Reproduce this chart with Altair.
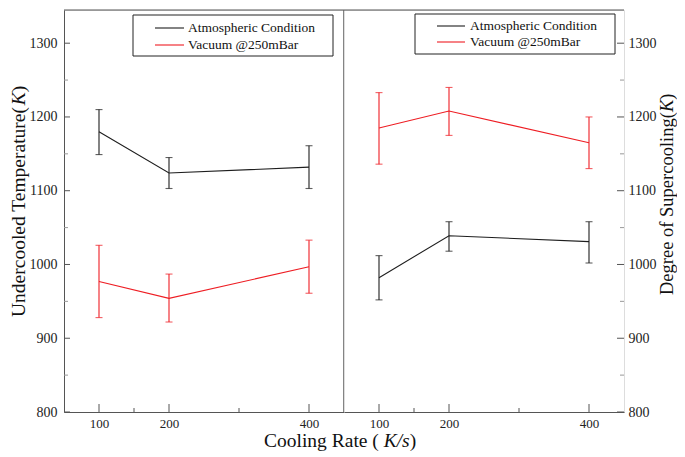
import altair as alt
import pandas as pd

FONT = "Liberation Serif"

rates = [100, 200, 400]
series = ["Atmospheric Condition", "Vacuum @250mBar"]
colors = ["#1e1e1e", "#ee1d23"]

under_atm_mean = [1180, 1124, 1132]
under_atm_lo = [1149, 1103, 1103]
under_atm_hi = [1210, 1145, 1161]
under_vac_mean = [977, 954, 997]
under_vac_lo = [928, 922, 961]
under_vac_hi = [1026, 987, 1033]

super_atm_mean = [982, 1039, 1031]
super_atm_lo = [952, 1018, 1002]
super_atm_hi = [1012, 1058, 1058]
super_vac_mean = [1185, 1208, 1165]
super_vac_lo = [1136, 1175, 1130]
super_vac_hi = [1233, 1240, 1200]

y_major = [800, 900, 1000, 1100, 1200, 1300]
y_minor = [850, 950, 1050, 1150, 1250]
x_major = [100, 200, 400]
x_minor = [150, 300]

W, H = 280, 402
XDOM = [50, 450]
YDOM = [800, 1345]
AX = "#555555"


def make_df(atm, vac):
    rows = []
    for name, (m, lo, hi) in zip(series, [atm, vac]):
        for r, a, b, c in zip(rates, m, lo, hi):
            rows.append({"rate": r, "series": name, "mean": a, "lo": b, "hi": c})
    return pd.DataFrame(rows)


df_under = make_df((under_atm_mean, under_atm_lo, under_atm_hi),
                   (under_vac_mean, under_vac_lo, under_vac_hi))
df_super = make_df((super_atm_mean, super_atm_lo, super_atm_hi),
                   (super_vac_mean, super_vac_lo, super_vac_hi))

one = pd.DataFrame({"a": [0]})
xs = alt.Scale(domain=XDOM, nice=False, zero=False)
ys = alt.Scale(domain=YDOM, nice=False, zero=False)
color = alt.Color("series:N", scale=alt.Scale(domain=series, range=colors), legend=None)


def panel(df, side, legend_box, legend_sym, legend_txt_x, rows_y, title_parts):
    x_axis = alt.Axis(values=x_major, title=None, grid=False, ticks=False, tickSize=0,
                      labelPadding=5, labelFontSize=13, labelFont=FONT, labelColor="#222",
                      domainColor=AX, domainWidth=1, format="d", labelFlush=False)
    if side == "left":
        y_axis = alt.Axis(orient="left", values=y_major, title=None, grid=False, ticks=False,
                          tickSize=0, labelPadding=7, labelFontSize=14, labelFont=FONT,
                          labelColor="#222", domainColor=AX, domainWidth=1, format="d")
    else:
        y_axis = alt.Axis(orient="right", values=y_major, title=None, grid=False, ticks=False,
                          tickSize=0, labelPadding=4, labelFontSize=14, labelFont=FONT,
                          labelColor="#222", domain=False, format="d")

    def X(f):
        return alt.X(f, scale=xs, axis=x_axis)

    def Y(f):
        return alt.Y(f, scale=ys, axis=y_axis)

    base = alt.Chart(df)
    layers = []
    layers.append(base.mark_line(strokeWidth=1.1).encode(x=X("rate:Q"), y=Y("mean:Q"), color=color))
    layers.append(base.mark_rule(strokeWidth=1.1).encode(x=X("rate:Q"), y=Y("lo:Q"), y2="hi:Q", color=color))
    layers.append(base.mark_tick(orient="horizontal", size=7, thickness=1.1).encode(x=X("rate:Q"), y=Y("lo:Q"), color=color))
    layers.append(base.mark_tick(orient="horizontal", size=7, thickness=1.1).encode(x=X("rate:Q"), y=Y("hi:Q"), color=color))

    # inward ticks
    dxm = pd.DataFrame({"v": x_major})
    dxn = pd.DataFrame({"v": x_minor})
    dym = pd.DataFrame({"v": y_major})
    dyn = pd.DataFrame({"v": y_minor})
    layers.append(alt.Chart(dxm).mark_rule(color=AX, strokeWidth=1).encode(
        x=X("v:Q"), y=alt.value(H), y2=alt.value(H - 8)))
    layers.append(alt.Chart(dxn).mark_rule(color=AX, strokeWidth=1).encode(
        x=X("v:Q"), y=alt.value(H), y2=alt.value(H - 4)))
    if side == "left":
        x0, x1, x2 = 0, 6, 4
    else:
        x0, x1, x2 = W, W - 7, W - 4
    layers.append(alt.Chart(dym).mark_rule(color=AX, strokeWidth=1).encode(
        y=Y("v:Q"), x=alt.value(x0), x2=alt.value(x1)))
    layers.append(alt.Chart(dyn).mark_rule(color="#999999", strokeWidth=1).encode(
        y=Y("v:Q"), x=alt.value(x0), x2=alt.value(x2)))

    # frame: top border, divider
    layers.append(alt.Chart(one).mark_rule(color=AX, strokeWidth=1).encode(
        x=alt.value(0), x2=alt.value(W), y=alt.value(0)))
    if side == "left":
        layers.append(alt.Chart(one).mark_rule(color="#666666", strokeWidth=1.6).encode(
            x=alt.value(W), y=alt.value(0), y2=alt.value(H)))

    # legend
    bx0, bx1, by0, by1 = legend_box
    layers.append(alt.Chart(one).mark_rect(fill="white", stroke="#222", strokeWidth=1).encode(
        x=alt.value(bx0), x2=alt.value(bx1), y=alt.value(by0), y2=alt.value(by1)))
    for name, col, ry in zip(series, colors, rows_y):
        layers.append(alt.Chart(one).mark_rule(color=col, strokeWidth=1.1).encode(
            x=alt.value(legend_sym[0]), x2=alt.value(legend_sym[1]), y=alt.value(ry)))
        layers.append(alt.Chart(one).mark_text(font=FONT, fontSize=13.5, align="left",
                                               baseline="middle", color="#111").encode(
            x=alt.value(legend_txt_x), y=alt.value(ry), text=alt.value(name)))

    # rotated y title in pieces (italic K)
    for txt, style, tx, ty, fs in title_parts:
        layers.append(alt.Chart(one).mark_text(font=FONT, fontSize=fs, fontStyle=style, angle=270,
                                               align="left", baseline="alphabetic",
                                               color="#111").encode(
            x=alt.value(tx), y=alt.value(ty), text=alt.value(txt)))
    return layers


left_title = [
    ("Undercooled Temperature(", "normal", -39, 307, 19.5),
    ("K", "italic", -39, 95.3, 19.5),
    (")", "normal", -39, 82.3, 19.5),
]
right_title = [
    ("Degree of Supercooling(", "normal", 329, 285, 18.5),
    ("K", "italic", 329, 102.1, 18.5),
    (")", "normal", 329, 89.8, 18.5),
]

left_layers = panel(df_under, "left", (69, 269, 5, 46), (91, 120), 124, (18, 35), left_title)
# x-axis title pieces (spanning both panels), drawn in left panel coordinates
for txt, style, tx in [("Cooling Rate ( ", "normal", 200), ("K/s", "italic", 319.7), (")", "normal", 345.7)]:
    left_layers.append(alt.Chart(one).mark_text(font=FONT, fontSize=19.5, fontStyle=style, align="left",
                                                baseline="alphabetic", color="#111").encode(
        x=alt.value(tx), y=alt.value(437), text=alt.value(txt)))

right_layers = panel(df_super, "right", (71, 271, 4, 44), (93, 121), 126, (16, 32), right_title)

left = alt.layer(*left_layers).properties(width=W, height=H)
right = alt.layer(*right_layers).properties(width=W, height=H)

chart = alt.hconcat(left, right, spacing=0, bounds="flush").properties(padding=0).configure_view(
    stroke=None).configure(font=FONT)

chart.save("out.html", embed_options={"renderer": "svg", "actions": False})
